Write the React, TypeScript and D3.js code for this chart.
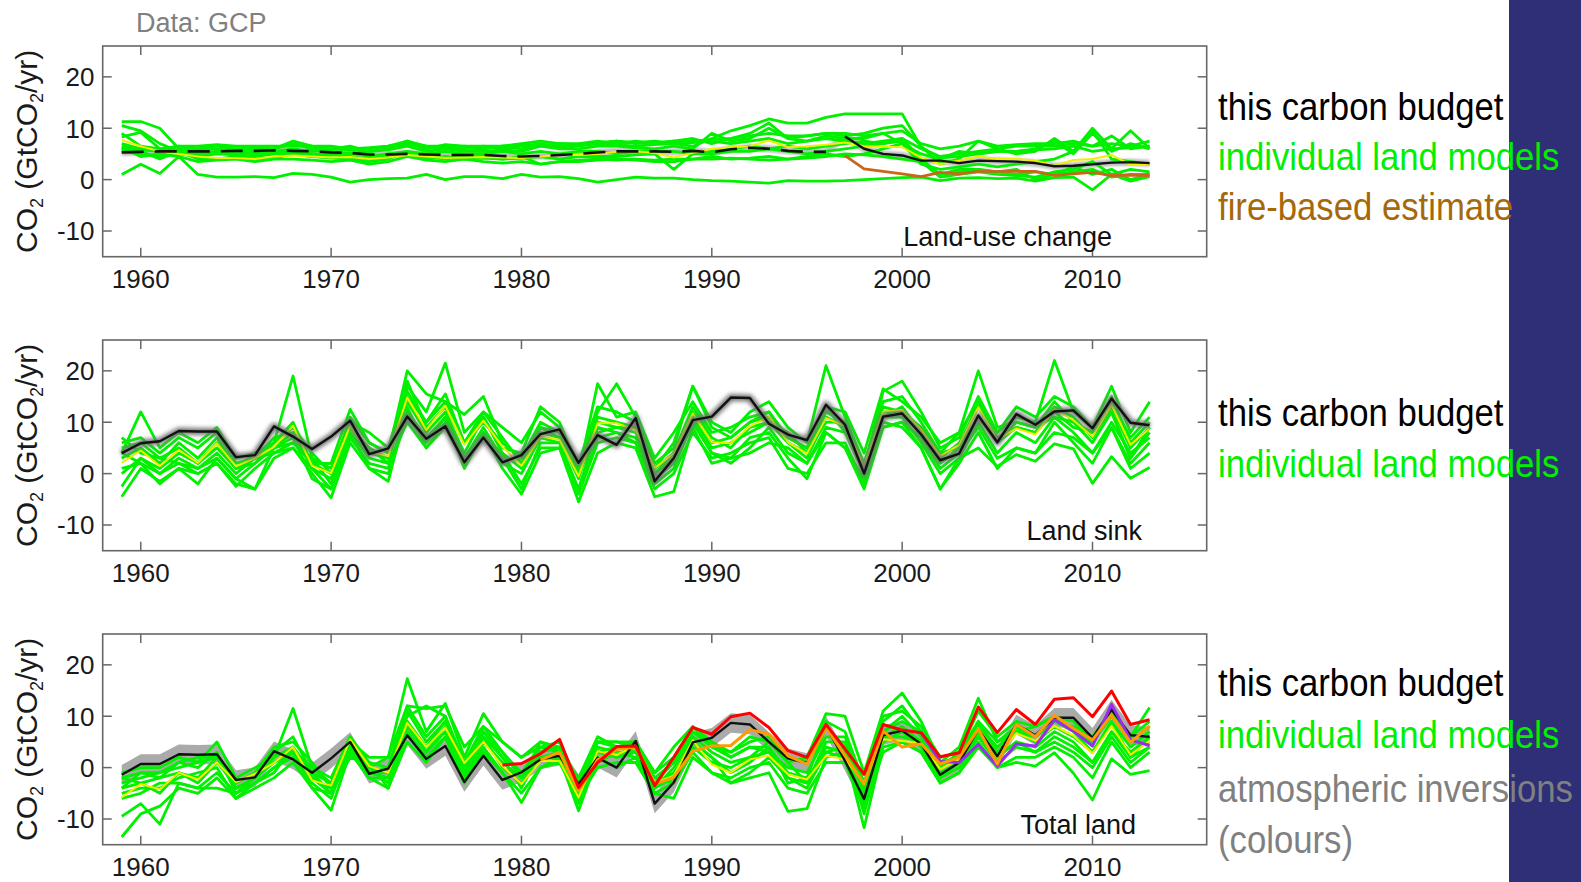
import React, { useEffect } from "react";
import * as d3 from "d3";

// ---------- data (GtCO2/yr), one value per year from FIRST_YEAR ----------
const FIRST_YEAR = 1959;
const X_TICKS = [1960, 1970, 1980, 1990, 2000, 2010];
const Y_TICKS = [-10, 0, 10, 20];

// Land-use change
const lucBudget = [5.3,
  5.4, 5.5, 5.5, 5.5, 5.5, 5.6, 5.6, 5.7, 5.6, 5.5,
  5.3, 5.2, 4.9, 4.9, 5.0, 4.9, 4.8, 4.8, 4.8, 4.6,
  4.5, 4.6, 4.8, 5.0, 5.3, 5.5, 5.5, 5.5, 5.4, 5.6,
  5.3, 5.9, 6.2, 6.0, 5.6, 5.4, 5.4, 8.4, 6.0, 5.0,
  4.7, 3.7, 3.7, 3.2, 3.7, 3.6, 3.5, 3.2, 2.6, 2.7,
  3.0, 3.3, 3.4, 3.2];
const LUC_BOOKKEEPING_LAST = 1996;
const lucModelMean = [7.7,
  6.5, 5.5, 5.0, 4.5, 4.2, 4.2, 4.0, 4.5, 4.7, 4.5,
  4.3, 4.4, 4.0, 4.3, 4.8, 4.5, 4.2, 4.3, 4.4, 4.3,
  4.2, 4.5, 4.8, 4.8, 5.0, 5.4, 5.5, 5.2, 4.3, 5.2,
  6.0, 6.3, 6.5, 7.6, 6.3, 6.5, 6.8, 7.2, 6.5, 6.4,
  6.3, 4.3, 3.0, 3.7, 4.5, 4.0, 4.0, 3.7, 2.7, 3.8,
  4.0, 4.8, 2.9, 3.0];
const FIRE_START = 1997;
const lucFire = [4.65, 2.1, 1.6, 1.1, 0.6, 1.4, 1.1, 1.6, 1.6, 1.6, 1.6, 0.8, 1.1, 1.4, 0.8, 0.9, 0.8];

const lucM1 = [1.0,
  3.0, 1.2, 4.5, 1.0, 0.5, 0.5, 0.6, 0.4, 1.2, 1.0,
  0.5, -0.5, 0.0, 0.2, 0.3, 1.0, 0.0, 0.6, 0.6, 0.2,
  1.0, 0.5, 0.6, 0.2, -0.5, 0.0, 0.5, 0.3, 0.3, 0.0,
  -0.2, -0.3, -0.5, -0.7, -0.2, -0.3, -0.3, -0.2, 0.0, 0.2,
  0.4, 0.5, -0.2, 0.3, 0.4, 0.2, 0.3, -0.3, 0.4, 0.5,
  -2.0, 1.0, -0.3, 0.6];
const lucM2 = [11.3,
  11.3, 10.0, 6.0, 6.0, 6.0, 5.5, 5.8, 5.5, 6.0, 5.5,
  6.0, 5.8, 5.5, 6.0, 7.5, 6.0, 6.5, 5.8, 6.0, 6.5,
  6.0, 6.8, 6.2, 6.5, 7.0, 6.8, 6.5, 6.8, 7.0, 6.5,
  8.0, 9.5, 10.5, 11.8, 11.0, 11.0, 12.1, 12.8, 12.8, 12.8,
  12.8, 6.3, 4.3, 4.5, 5.0, 5.5, 5.5, 5.8, 6.0, 6.5,
  5.5, 6.0, 6.2, 6.5];
const lucM3 = [10.5,
  9.5, 7.0, 5.5, 5.5, 5.2, 5.5, 5.0, 5.2, 5.5, 5.8,
  5.5, 5.0, 5.5, 5.8, 6.5, 5.5, 6.0, 5.5, 5.5, 5.8,
  5.5, 6.5, 6.0, 6.0, 6.5, 6.5, 6.2, 6.0, 6.5, 6.0,
  9.0, 7.5, 8.0, 10.0, 8.0, 7.5, 8.5, 8.0, 8.0, 9.0,
  7.0, 5.0, 4.0, 5.5, 5.0, 5.5, 5.5, 6.0, 7.5, 5.0,
  9.0, 5.5, 7.0, 6.0];
const lucM4 = [8.3,
  9.2, 6.0, 5.5, 5.0, 5.5, 5.0, 5.5, 6.0, 7.0, 6.0,
  6.0, 6.0, 6.2, 6.5, 7.5, 6.5, 6.5, 6.0, 6.5, 6.5,
  6.8, 6.5, 7.0, 6.8, 7.2, 7.5, 7.0, 7.2, 7.5, 7.5,
  7.8, 8.0, 8.5, 9.0, 8.5, 8.5, 9.0, 9.0, 8.5, 9.0,
  9.5, 7.0, 6.0, 6.5, 7.5, 6.5, 6.8, 7.0, 7.0, 7.5,
  6.5, 7.0, 6.5, 7.5];
const lucM5 = [6.2,
  4.5, 5.0, 4.5, 3.5, 3.8, 4.0, 3.5, 4.0, 4.0, 3.8,
  3.5, 3.8, 3.0, 3.5, 4.5, 3.8, 3.5, 4.0, 3.5, 3.2,
  3.5, 3.0, 3.5, 3.5, 3.8, 4.0, 3.8, 3.5, 3.5, 4.0,
  4.0, 4.2, 4.0, 3.8, 4.0, 4.2, 4.5, 5.0, 4.8, 4.5,
  4.0, 3.5, 0.5, 1.0, 1.5, 1.0, 0.8, 0.5, 1.5, 2.0,
  3.5, 1.0, 2.0, 1.5];
const lucM6 = [7.0,
  6.0, 5.5, 6.5, 6.0, 6.5, 6.0, 6.2, 6.0, 7.5, 6.5,
  6.0, 6.5, 5.5, 6.0, 7.0, 6.5, 6.0, 6.5, 6.0, 6.5,
  7.0, 7.5, 7.0, 7.0, 7.5, 7.0, 7.5, 7.0, 7.5, 8.0,
  7.0, 8.0, 9.0, 11.0, 8.0, 8.5, 9.0, 8.5, 9.0, 10.0,
  10.5, 6.5, 3.0, 4.0, 7.5, 6.0, 5.0, 5.5, 8.0, 5.5,
  10.0, 6.0, 9.5, 6.0];
const lucM7 = [5.5,
  5.0, 4.5, 5.0, 4.5, 5.0, 4.8, 4.5, 5.0, 5.0, 4.5,
  4.8, 4.5, 4.0, 4.5, 5.0, 4.5, 4.0, 4.5, 4.5, 4.0,
  4.2, 4.5, 4.0, 4.5, 4.5, 4.5, 4.8, 5.0, 2.0, 5.0,
  5.0, 5.5, 5.5, 6.0, 5.5, 5.0, 5.5, 6.0, 6.5, 7.0,
  8.0, 4.0, 1.0, 2.0, 2.0, 1.5, 2.0, 0.0, 1.0, 2.5,
  1.0, 2.0, 0.0, 1.0];
const lucM8 = [6.5,
  5.5, 4.0, 5.5, 4.0, 4.0, 4.5, 4.0, 4.2, 5.0, 4.5,
  4.2, 4.0, 3.5, 4.0, 5.5, 4.0, 4.5, 4.0, 4.2, 4.0,
  4.5, 3.0, 3.5, 3.8, 4.0, 3.8, 4.0, 3.8, 4.0, 4.0,
  4.5, 4.0, 4.2, 4.5, 4.0, 4.5, 5.0, 4.5, 5.0, 6.0,
  7.0, 3.0, 2.0, 2.5, 3.0, 2.5, 3.0, 3.5, 4.0, 5.5,
  9.5, 4.0, 3.5, 3.0];
const lucM9 = [9.0,
  6.5, 6.0, 6.5, 6.5, 6.8, 6.5, 6.5, 6.5, 6.5, 6.5,
  6.5, 6.0, 6.0, 6.5, 7.0, 6.0, 6.8, 6.5, 6.5, 6.0,
  6.5, 7.0, 6.5, 6.8, 7.0, 7.5, 7.2, 7.5, 7.0, 7.2,
  7.5, 7.0, 7.5, 8.0, 7.0, 7.5, 8.0, 7.5, 7.0, 7.5,
  8.0, 6.0, 4.5, 5.0, 5.5, 6.0, 6.5, 6.5, 6.5, 7.0,
  6.5, 8.5, 6.0, 6.5];
const lucM10 = [6.0,
  5.8, 5.5, 5.8, 5.0, 5.5, 5.0, 5.2, 5.0, 5.5, 5.0,
  5.0, 5.2, 4.5, 5.0, 5.5, 5.0, 5.5, 5.0, 5.0, 5.5,
  5.0, 5.5, 5.0, 5.5, 5.5, 5.0, 5.5, 5.5, 5.5, 5.0,
  5.5, 6.0, 6.5, 6.0, 6.5, 6.0, 6.5, 7.0, 7.5, 7.0,
  7.5, 3.5, 1.0, 1.5, 2.0, 1.5, 1.0, 1.5, 1.0, 1.5,
  2.0, 0.5, 1.0, 1.0];
const lucModels = [lucM1, lucM2, lucM3, lucM4, lucM5, lucM6, lucM7, lucM8, lucM9, lucM10];

// Land sink
const sinkBudget = [4.0,
  5.9, 6.3, 8.3, 8.2, 8.2, 3.2, 3.6, 9.2, 7.2, 4.8,
  7.2, 10.3, 3.8, 4.9, 11.1, 6.8, 9.2, 2.2, 7.0, 2.2,
  3.6, 7.7, 8.6, 2.1, 7.5, 5.6, 10.8, -1.5, 3.0, 10.4,
  11.1, 14.8, 14.7, 9.7, 7.6, 6.5, 13.4, 9.5, 0.0, 11.1,
  11.7, 7.6, 2.6, 3.9, 11.3, 6.1, 11.6, 9.5, 12.1, 12.3,
  8.8, 14.6, 9.9, 9.4];
const sinkModelMean = [2.1,
  4.5, 1.5, 4.6, 2.1, 5.9, 1.4, 3.0, 5.2, 9.3, 1.5,
  0.1, 9.3, 4.3, 3.4, 14.8, 8.5, 13.2, 5.6, 10.3, 5.2,
  1.5, 7.2, 6.6, -0.5, 9.8, 9.8, 8.5, 1.1, 3.9, 11.7,
  6.1, 5.9, 9.2, 11.1, 6.1, 3.9, 10.8, 9.3, 1.4, 12.1,
  12.4, 8.5, 3.4, 5.6, 12.9, 6.6, 8.8, 7.6, 12.5, 10.4,
  7.2, 13.4, 5.6, 8.8];
const sinkM1 = [6,
  7, 4, 7, 5, 8, 2, 3, 6, 19, 3,
  1, 10, 8, 5, 17, 12, 21.5, 8, 12, 9,
  6, 12, 9, 2, 13, 12, 10, 1, 6, 17,
  10, 8, 12, 14, 9, 6, 21, 11, 2, 14,
  15, 10, 4, 8, 14, 8, 11, 10, 22, 12,
  9, 14, 7, 11];
const sinkM2 = [3,
  5, 2, 6, 3, 7, 1, 4, 6, 10, 2,
  2, 12.5, 6, 4, 20, 15.5, 14, 11.5, 15, 6,
  3, 10, 8, 0, 17.5, 11, 12, 3, 8, 14,
  8, 9, 11, 12, 7, 5, 13, 12, 4, 16.5,
  14, 11, 6, 8, 20, 9, 10, 9, 14, 10,
  8, 15, 6, 10];
const sinkM3 = [4,
  12, 5, 8, 6, 9, 3, 4, 5, 8, 1,
  -1, 9, 5, 3, 15, 10, 15.5, 6, 11, 5,
  4, 13, 10, 1, 12, 17.5, 11, 2, 5, 17,
  9, 7, 10, 11, 6, 4, 12, 10, 1, 16,
  18, 12, 5, 7, 15, 8, 13, 11, 15, 13,
  9, 17, 8, 14];
const sinkM4 = [-4.5,
  1, -1.5, 1, 0, 2, -2.5, 1, 4, 5, 0,
  -4.7, 6, 1, -1.5, 13, 5, 10, 2, 8, 1,
  -4, 4, 5, -5.5, 4, 6, 5, -4.5, -3.5, 9,
  2, 3, 7, 8, 3, -1, 8, 5, -3, 9,
  10, 5, -3, 2, 8, 1, 5, 4, 10, 6,
  2, 9, 1, 4];
const sinkM5 = [-2.5,
  3, 0, 3, 1, 3, -1, 2, 5, 7, -1,
  -3, 7, 2, 1, 12, 7, 11, 3, 9, 3,
  -3, 6, 6, -4, 6, 7, 6, -2, 1, 10,
  4, 2, 5, 9, 4, 2, 9, 8, 0, 10,
  9, 5, -3, 3, 5, 1.4, 3.7, 2.4, 5.8, 4.8,
  -1.9, 3.3, -0.9, 1.2];
const sinkM6 = [5,
  6, 3, 5, 2, 6, 1, 2, 6, 9, 4,
  0, 11, 6, 4, 16, 10, 14, 6, 12, 7,
  2, 8, 7, -1, 11, 10, 9, 0, 4, 13,
  7, 5, 9, 10, 8, 4, 10, 10, 1, 13,
  12, 8, 3, 6, 13, 7, 9, 8, 13, 11,
  7, 13, 5, 9];
const sinkM7 = [7,
  4, 3, 2, 1, 4, 0, 3, 4, 6, 2,
  2, 8, 3, 2, 18, 9, 13, 6, 10, 6,
  3, 9, 8, 1, 10, 9, 9, 1, 4, 12,
  6, 7, 10, 12, 7, 5, 13, 8, 2, 12,
  12, 9, 4, 5, 14, 6, 9, 8, 12, 9,
  8, 12, 3, 8];
const sinkM8 = [1,
  2, -2, 1, -2, 3, -1, -3, 5, 6, 3,
  -2, 8, 1, 0, 11, 6, 11, 1, 8, 2,
  0, 7, 6, -3, 9, 8, 6, -3, 0, 8,
  3, 4, 6, 7, 1, 0, 6, 6, -2, 11,
  11, 6, 0, 3, 10, 4, 8, 6, 11, 8,
  4, 10, 4, 7];
const sinkM9 = [0,
  3, 1, 4, 2, 5, 1, 3, 7, 8, 2,
  0, 9, 4, 3, 14, 8, 12, 4, 11, 4,
  1, 9, 7, 0, 8, 9, 8, 0, 3, 11,
  5, 6, 8, 10, 6, 3, 11, 9, 0, 11,
  13, 8, 2, 5, 11, 6, 10, 9, 11, 10,
  6, 12, 3, 9];
const sinkM10 = [4,
  2, 0, 2, 0, 2, -2, -3, 3, 5, 1,
  -3, 7, 5, 2, 10, 5, 9, 2, 7, 4,
  -2, 5, 5, -4, 7, 8, 7, -1, 2, 10,
  4, 3, 4, 6, 5, 2, 8, 5, -1, 9,
  10, 7, 1, 4, 9, 3, 5, 4, 8, 7,
  4, 9, 2, 6];
const sinkModels = [sinkM1, sinkM2, sinkM3, sinkM4, sinkM5, sinkM6, sinkM7, sinkM8, sinkM9, sinkM10];

// Total land
const totalBudget = [-1.4,
  0.7, 0.7, 2.6, 2.5, 2.6, -2.4, -1.9, 3.2, 1.6, -1.0,
  1.8, 5.0, -1.2, -0.2, 6.3, 1.7, 4.2, -2.8, 2.3, -2.4,
  -0.9, 1.6, 2.3, -3.2, 1.9, 0.0, 5.2, -7.0, -2.9, 4.9,
  5.8, 8.7, 8.4, 5.0, 1.8, 0.9, 8.1, 1.3, -6.1, 6.3,
  7.2, 4.6, -1.4, 1.0, 7.5, 2.2, 8.4, 6.3, 9.7, 9.7,
  5.8, 11.3, 6.3, 6.0];
const totalBudgetUnc = 1.9;
const totalModelMean = [-5.8,
  -3.2, -4.2, -1.0, -2.3, 1.0, -2.8, -1.2, 0.9, 4.0, -2.5,
  -3.5, 5.5, 0.3, -1.0, 8.7, 4.0, 7.8, 0.9, 5.0, 0.3,
  -3.2, 1.3, 1.3, -5.8, 3.2, 2.5, 4.2, -2.9, -1.6, 5.3,
  0.6, -1.0, 1.6, 2.3, -1.3, -2.3, 2.3, 1.6, -2.9, 5.5,
  5.2, 4.8, -0.3, 1.6, 7.7, 2.0, 6.7, 5.2, 8.1, 6.2,
  2.8, 8.1, 2.5, 5.2];
const INV_RED_START = 1979;
const invRed = [0.5, 0.8, 2.7, 5.5, -3.9, 1.0, 4.1, 4.2, -3.5, 2.0, 7.8,
  6.5, 9.9, 10.6, 7.8, 3.3, 2.0, 8.4, 3.6, -1.3, 8.4,
  7.3, 6.8, 2.1, 2.9, 11.8, 6.8, 11.3, 8.4, 13.3, 13.6,
  9.9, 14.9, 8.4, 9.3];
const INV_ORANGE_START = 1981;
const invOrange = [1.5, 3.0, -4.5, 1.5, 3.5, 4.0, -3.2, -1.9, 3.2,
  4.2, 4.3, 7.4, 6.5, 2.3, 0.7, 7.8, 2.3, -3.2, 7.1,
  4.0, 4.6, 0.7, 2.0, 7.5, 0.7, 8.4, 6.0, 10.2, 7.6,
  5.4, 10.2, 4.9, 8.1];
const INV_PURPLE_START = 2001;
const invPurple = [6.8, 1.2, 1.0, 4.5, 0.3, 4.6, 4.2, 9.3, 7.1, 4.2, 12.3, 5.4, 4.3];

const totM1 = [-1,
  0, 0, 2, 1, 5, -2, 0, 2, 11.5, 0,
  -2, 6, 0, 2, 17.3, 7, 12.5, 2, 10.5, 5,
  2, 5, 3, -2, 6, 4, 5, -1, 4, 8,
  4, 3, 6, 5, 1, 2, 10.5, 10, -1, 11,
  14.5, 9, 1, 4, 13.5, 5, 7, 8, 10, 7,
  5, 10, 6, 11.7];
const totM2 = [-2,
  -1, -1, 1, 2, 2, -3, -1, 4, 5, 1,
  -4, 5, 2, 2, 12, 11.5, 12, 4, 8, 5,
  2, 4, 5, -3, 5, 5, 4, -3, 1, 7,
  5, 2, 4, 4, -1, -2, 8, 4, -8, 9,
  12, 7, 0, 3, 9, 5, 8, 6, 9, 8,
  6, 11, 5, 8];
const totM3 = [-4,
  -3, -2, 1, 0, 3, -5, -2, 2, 4, -1,
  -5, 5, 0, -3, 11, 5, 9, 0, 7, 2,
  -1, 3, 4, -4, 4, 3, 3, -4, 0, 6,
  3, 1, 2, 5, 1, -3, 5, 5, -5, 7,
  10, 6, -2, 1, 9, 3, 7, 5, 8, 6,
  3, 9, 2, 6];
const totM4 = [-13.5,
  -9, -7.5, -4, -5, -2, -6, -4, -2, 1, -4,
  -8.3, 3, -2, -4, 5, 1, 6, -3, 3, -1,
  -6.8, 0, 2, -8.4, 2, 0, 2, -5, -6, 2,
  -1, -3, -2, -1, -8.5, -8, 2, 3, -11.7, 4,
  5, 3, -3, -1, 4, 0, 1.0, 0.3, 2.9, -1.1,
  -6.3, 1.7, -1.3, -0.6];
const totM5 = [-9.5,
  -7, -11, -3, -4, -4, -5, -3, -1, 4, -2,
  -5, 3, -2, -2, 9, 3, 8, -1, 6, 0,
  -3, 2, 3, -6, 3, 4, 3, -2, -3, 5,
  2, -3, -1, 2, -2, -4, 3, 2, -6, 6,
  8, 5, -1, 1, 7, 2, 5, 3, 6, 4,
  1, 7, 2, 4];
const totM6 = [-3,
  -2, -1, 0, 1, 2, -4, -2, 1, 3, 0,
  -3, 4, -1, 0, 10, 12, 10, 0, 7, 3,
  -1, 4, 3, -5, 5, 4, 4, -2, 1, 7,
  4, 2, 4, 3, 0, -1, 6, 6, -4, 7,
  9, 7, 1, 2, 8, 4, 7, 6, 9, 7,
  3, 9, 4, 7];
const totM7 = [-5,
  -4, -4, -2, -1, 0, -6, -3, 0, 2, -3,
  -6, 4, -1, -2, 8, 3, 7, -2, 5, 1,
  -2, 2, 2, -7, 1, 3, 2, -4, -2, 4,
  1, 0, 2, 3, -2, -3, 4, 3, -7, 6,
  6, 5, -2, 0, 6, 1, 4, 3, 5, 3,
  0, 6, 1, 4];
const totM8 = [-2,
  -3, -5, -1, -3, 1, -3, -1, 1, 3, -2,
  -4, 5, -1, -1, 9, 4, 9, 0, 6, 2,
  -4, 3, 4, -5, 3, 2, 3, -3, -1, 5,
  2, -1, 1, 4, -3, -2, 3, 4, -9, 5,
  7, 4, -2, 1, 6, 2, 5, 4, 7, 5,
  1, 7, 3, 6];
const totM9 = [-6,
  -5, -3, -3, -4, -1, -5, -3, 0, 3, -4,
  -5, 2, 1, -4, 7, 2, 6, -3, 4, -1,
  -5, 0, 1, -6, 0, 1, 1, -5, -3, 3,
  -1, -2, 0, 1, -4, -5, 1, 1, -8, 3,
  5, 3, -3, -1, 5, 0, 2, 2, 4, 2,
  -2, 5, 0, 3];
const totM10 = [-4,
  -1, -2, -1, -2, 2, -4, -2, 3, 6, -1,
  -3, 6, 1, 0, 12, 6, 10, 1, 8, 3,
  -2, 5, 4, -4, 5, 5, 5, -1, 2, 8,
  5, 3, 5, 6, 2, 1, 9, 7, -3, 10,
  11, 8, 2, 3, 11, 6, 9, 8, 10, 9,
  5, 11, 6, 9];
const totalModels = [totM1, totM2, totM3, totM4, totM5, totM6, totM7, totM8, totM9, totM10];

// ---------- layout & style ----------
const W = 1581;
const H = 882;
const LEFT = 102.7;
const RIGHT = 1206.7;
const PH = 210.7;
const TICK = 9;
const FONT = "'Liberation Sans', Arial, Helvetica, sans-serif";
const GREEN = "#00f000";
const YELLOW = "#f2ee00";
const FRAME = "#676767";

const x = d3.scaleLinear().domain([1958, 2016]).range([LEFT, RIGHT]);
const makeY = (top: number) => d3.scaleLinear().domain([-15, 26]).range([top + PH, top]);

function pathFor(values: number[], start: number, y: d3.ScaleLinear<number, number>) {
  return d3.line<number>().x((_, i) => x(start + i)).y((d) => y(d))(values) || "";
}

type LegendItem = { text: string; color: string; y: number };

function Legend({ items }: { items: LegendItem[] }) {
  return (
    <g>
      {items.map((it) => (
        <text key={it.text} transform={`translate(1218,${it.y}) scale(0.89,1)`}
          fontFamily={FONT} fontSize={39} fill={it.color}>{it.text}</text>
      ))}
    </g>
  );
}

function Frame({ top, label, labelEnd }: { top: number; label: string; labelEnd: number }) {
  const y = makeY(top);
  const bottom = top + PH;
  return (
    <g>
      <rect x={LEFT} y={top} width={RIGHT - LEFT} height={PH} fill="none" stroke={FRAME} strokeWidth={1.6} />
      {X_TICKS.map((t) => (
        <g key={"x" + t}>
          <line x1={x(t)} x2={x(t)} y1={top} y2={top + TICK} stroke={FRAME} strokeWidth={1.5} />
          <line x1={x(t)} x2={x(t)} y1={bottom} y2={bottom - TICK} stroke={FRAME} strokeWidth={1.5} />
          <text x={x(t)} y={bottom + 31.5} textAnchor="middle" fontFamily={FONT} fontSize={26} fill="#1a1a1a">{t}</text>
        </g>
      ))}
      {Y_TICKS.map((t) => (
        <g key={"y" + t}>
          <line x1={LEFT} x2={LEFT + TICK} y1={y(t)} y2={y(t)} stroke={FRAME} strokeWidth={1.5} />
          <line x1={RIGHT} x2={RIGHT - TICK} y1={y(t)} y2={y(t)} stroke={FRAME} strokeWidth={1.5} />
          <text x={94.5} y={y(t) + 9.3} textAnchor="end" fontFamily={FONT} fontSize={26} fill="#1a1a1a">{t}</text>
        </g>
      ))}
      <text x={labelEnd} y={bottom - 11} textAnchor="end" fontFamily={FONT} fontSize={27} fill="#111">{label}</text>
      <text transform={`translate(37,${top + PH / 2}) rotate(-90)`} textAnchor="middle"
        fontFamily={FONT} fontSize={30} fill="#1a1a1a">
        CO<tspan fontSize={18} dy={6}>2</tspan><tspan dy={-6}> (GtCO</tspan><tspan fontSize={18} dy={6}>2</tspan><tspan dy={-6}>/yr)</tspan>
      </text>
    </g>
  );
}

function ModelLines({ models, y }: { models: number[][]; y: d3.ScaleLinear<number, number> }) {
  return (
    <g>
      {models.map((m, i) => (
        <path key={i} d={pathFor(m, FIRST_YEAR, y)} fill="none" stroke={GREEN} strokeWidth={2.8} strokeLinejoin="round" />
      ))}
    </g>
  );
}

function LandUsePanel({ top }: { top: number }) {
  const y = makeY(top);
  const split = LUC_BOOKKEEPING_LAST - FIRST_YEAR;
  const dashedPart = lucBudget.slice(0, split + 1);
  const solidPart = lucBudget.slice(split + 1);
  return (
    <g>
      <path d={pathFor(lucBudget, FIRST_YEAR, y)} fill="none" stroke="#bdbdbd" strokeWidth={7} strokeLinejoin="round" filter="url(#soft)" />
      <ModelLines models={lucModels} y={y} />
      <path d={pathFor(lucModelMean, FIRST_YEAR, y)} fill="none" stroke={YELLOW} strokeWidth={2} />
      <path d={pathFor(dashedPart, FIRST_YEAR, y)} fill="none" stroke="#111" strokeWidth={2.6} strokeDasharray="22,11" />
      <path d={pathFor(solidPart, LUC_BOOKKEEPING_LAST + 1, y)} fill="none" stroke="#111" strokeWidth={2.4} strokeLinejoin="round" />
      <path d={pathFor(lucFire, FIRE_START, y)} fill="none" stroke="#c8661a" strokeWidth={2.8} strokeLinejoin="round" />
      <Frame top={top} label="Land-use change" labelEnd={1112} />
    </g>
  );
}

function SinkPanel({ top }: { top: number }) {
  const y = makeY(top);
  return (
    <g>
      <ModelLines models={sinkModels} y={y} />
      <path d={pathFor(sinkModelMean, FIRST_YEAR, y)} fill="none" stroke={YELLOW} strokeWidth={2} strokeLinejoin="round" />
      <path d={pathFor(sinkBudget, FIRST_YEAR, y)} fill="none" stroke="#777" strokeWidth={7} strokeLinejoin="round" filter="url(#glow)" />
      <path d={pathFor(sinkBudget, FIRST_YEAR, y)} fill="none" stroke="#111" strokeWidth={2.4} strokeLinejoin="round" />
      <Frame top={top} label="Land sink" labelEnd={1142} />
    </g>
  );
}

function TotalPanel({ top }: { top: number }) {
  const y = makeY(top);
  const band = d3.area<number>()
    .x((_, i) => x(FIRST_YEAR + i))
    .y0((d) => y(d - totalBudgetUnc))
    .y1((d) => y(d + totalBudgetUnc));
  return (
    <g>
      <path d={band(totalBudget) || ""} fill="#aaaaaa" />
      <ModelLines models={totalModels} y={y} />
      <path d={pathFor(totalModelMean, FIRST_YEAR, y)} fill="none" stroke={YELLOW} strokeWidth={2} strokeLinejoin="round" />
      <path d={pathFor(totalBudget, FIRST_YEAR, y)} fill="none" stroke="#111" strokeWidth={2.4} strokeLinejoin="round" />
      <path d={pathFor(invPurple, INV_PURPLE_START, y)} fill="none" stroke="#9a2cf0" strokeWidth={3} strokeLinejoin="round" />
      <path d={pathFor(invOrange, INV_ORANGE_START, y)} fill="none" stroke="#ff9a00" strokeWidth={3} strokeLinejoin="round" />
      <path d={pathFor(invRed, INV_RED_START, y)} fill="none" stroke="#ff0000" strokeWidth={3} strokeLinejoin="round" />
      <Frame top={top} label="Total land" labelEnd={1136} />
    </g>
  );
}

export default function App() {
  useEffect(() => {
    document.body.style.margin = "0";
  }, []);
  return (
    <svg width={W} height={H} viewBox={`0 0 ${W} ${H}`} style={{ display: "block", background: "#fff" }}>
      <defs>
        <filter id="glow" x="-5%" y="-20%" width="110%" height="140%">
          <feGaussianBlur stdDeviation={2.2} />
        </filter>
        <filter id="soft" x="-5%" y="-20%" width="110%" height="140%">
          <feGaussianBlur stdDeviation={0.8} />
        </filter>
      </defs>
      <rect width={W} height={H} fill="#fff" />
      <text x={136} y={32} fontFamily={FONT} fontSize={27} fill="#808080">Data: GCP</text>
      <LandUsePanel top={46} />
      <SinkPanel top={340} />
      <TotalPanel top={634} />
      <rect x={1509} y={0} width={W - 1509} height={H} fill="#2e2f76" />
      <Legend items={[
        { text: "this carbon budget", color: "#000", y: 120 },
        { text: "individual land models", color: "#00f000", y: 170 },
        { text: "fire-based estimate", color: "#a5690a", y: 220 },
      ]} />
      <Legend items={[
        { text: "this carbon budget", color: "#000", y: 426 },
        { text: "individual land models", color: "#00f000", y: 477 },
      ]} />
      <Legend items={[
        { text: "this carbon budget", color: "#000", y: 696 },
        { text: "individual land models", color: "#00f000", y: 748 },
        { text: "atmospheric inversions", color: "#808080", y: 802 },
        { text: "(colours)", color: "#808080", y: 853 },
      ]} />
    </svg>
  );
}
